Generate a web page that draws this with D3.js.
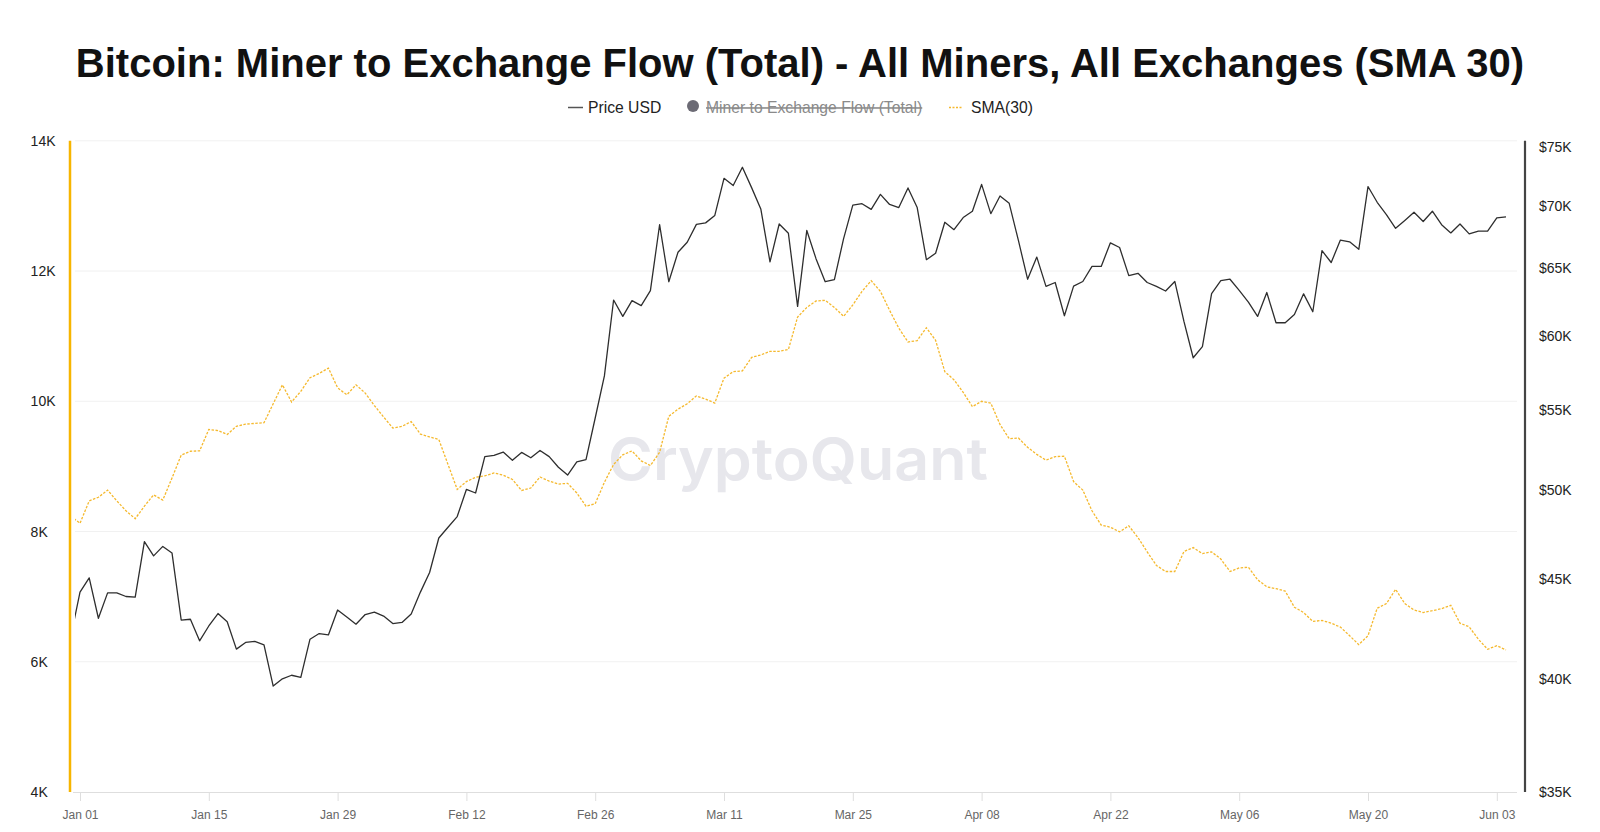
<!DOCTYPE html>
<html><head><meta charset="utf-8">
<script src="https://cdn.jsdelivr.net/npm/d3@7"></script>
<style>
html,body{margin:0;padding:0;background:#fff;}
svg{display:block;font-family:"Liberation Sans",Arial,Helvetica,sans-serif;}
</style></head><body>
<svg id="chart" width="1600" height="832"></svg>
<script>
// ---------- data ----------
const firstDate = "2023-12-31";
const priceUSD = [42050,
 44330,45080,42980,44290,44290,44100,44070,47060,46270,46790,
 46430,42890,42930,41850,42590,43220,42800,41440,41770,41820,
 41650,39670,40010,40180,40080,41930,42210,42140,43400,43040,
 42680,43170,43290,43090,42710,42770,43200,44330,45370,47260,
 47860,48470,50050,49840,52030,52110,52310,51810,52290,51960,
 52410,52030,51380,50910,51710,51840,54460,57240,62610,61410,
 62570,62200,63310,68440,63980,66250,67040,68470,68590,69200,
 72300,71690,73250,71510,69730,65500,68500,67750,62140,67980,
 65750,63980,64140,67330,70040,70160,69690,70940,70100,69840,
 71480,69840,65670,66170,68640,68040,69020,69540,71780,69340,
 70810,70190,67180,64170,65870,63630,63920,61460,63650,64000,
 65150,65150,66990,66620,64440,64620,63920,63630,63280,64000,
 61030,58480,59250,63090,64060,64170,63330,62460,61410,63170,
 60950,60950,61550,63070,61750,66370,65450,67210,67070,66480,
 71600,70280,69260,68150,68790,69460,68700,69540,68440,67780,
 68500,67700,67920,67920,68990,69070];
const sma30 = [8236,
 8126,8471,8526,8636,8471,8318,8197,8389,8564,8482,
 8822,9173,9233,9238,9567,9551,9490,9616,9649,9660,
 9671,9962,10252,9989,10153,10362,10427,10510,10208,10099,
 10252,10126,9934,9759,9589,9616,9688,9496,9452,9414,
 9030,8647,8767,8833,8855,8899,8866,8800,8630,8668,
 8838,8773,8729,8740,8592,8389,8427,8756,9030,9178,
 9238,9085,9014,9216,9770,9879,9962,10082,10033,9973,
 10356,10455,10466,10674,10712,10767,10767,10795,11293,11441,
 11540,11551,11441,11304,11479,11688,11852,11688,11397,11123,
 10910,10932,11129,10937,10455,10329,10137,9918,10000,9973,
 9644,9425,9436,9293,9184,9096,9151,9156,8767,8636,
 8318,8099,8066,7995,8088,7907,7688,7479,7386,7386,
 7693,7753,7660,7688,7578,7386,7441,7452,7260,7151,
 7123,7085,6838,6756,6619,6635,6592,6532,6400,6263,
 6400,6822,6893,7112,6893,6795,6756,6784,6816,6866,
 6592,6537,6345,6192,6247,6181];
const leftTicks = [4000,6000,8000,10000,12000,14000];
const rightTicks = [35000,40000,45000,50000,55000,60000,65000,70000,75000];
const xTickDates = ["2024-01-01","2024-01-15","2024-01-29","2024-02-12","2024-02-26","2024-03-11",
                    "2024-03-25","2024-04-08","2024-04-22","2024-05-06","2024-05-20","2024-06-03"];
const titleText = "Bitcoin: Miner to Exchange Flow (Total) - All Miners, All Exchanges (SMA 30)";
const legendItems = ["Price USD","Miner to Exchange Flow (Total)","SMA(30)"];

// ---------- build ----------
(function () {
const parse = d3.utcParse("%Y-%m-%d");
const d0 = parse(firstDate);
const dates = priceUSD.map((_, i) => d3.utcDay.offset(d0, i));
const rows = dates.map((d, i) => ({date: d, price: priceUSD[i], sma: sma30[i]}));

const svg = d3.select("#chart");
const pTop = 140.8, pBottom = 792, clipL = 75, clipR = 1517;

const x = d3.scaleUtc().domain([parse("2024-01-01"), parse("2024-06-03")]).range([80, 1496.8]);
const yL = d3.scaleLinear().domain([4000, 14000]).range([pBottom, pTop]);
const yR = d3.scaleLog().domain([35000, 75000]).range([pBottom, 147.3]);

// title
svg.append("text").attr("x", 800).attr("y", 77).attr("text-anchor", "middle")
  .attr("font-size", 40).attr("font-weight", "bold").attr("fill", "#111").text(titleText);

// legend
const lg = svg.append("g").attr("font-size", 15.7);
lg.append("line").attr("x1", 568).attr("x2", 583).attr("y1", 107.5).attr("y2", 107.5)
  .attr("stroke", "#555").attr("stroke-width", 1.5);
lg.append("text").attr("x", 588).attr("y", 107).attr("dy", "0.36em").attr("fill", "#222").text(legendItems[0]);
lg.append("circle").attr("cx", 693).attr("cy", 106).attr("r", 6).attr("fill", "#6c6b75");
lg.append("text").attr("x", 706).attr("y", 107).attr("dy", "0.36em").attr("fill", "#8a8a8a")
  .attr("text-decoration", "line-through").text(legendItems[1]);
lg.append("line").attr("x1", 949).attr("x2", 962).attr("y1", 107.5).attr("y2", 107.5)
  .attr("stroke", "#f5b92e").attr("stroke-width", 1.5).attr("stroke-dasharray", "2,1.5");
lg.append("text").attr("x", 971).attr("y", 107).attr("dy", "0.36em").attr("fill", "#222").text(legendItems[2]);

// gridlines
svg.append("g").selectAll("line").data(leftTicks.filter(t => t > 4000)).join("line")
  .attr("x1", clipL).attr("x2", clipR).attr("y1", d => yL(d)).attr("y2", d => yL(d))
  .attr("stroke", "#f1f1f1").attr("stroke-width", 1);

// x axis
const xAxis = d3.axisBottom(x).tickValues(xTickDates.map(parse)).tickFormat(d3.utcFormat("%b %d"))
  .tickSize(9).tickSizeOuter(0);
const gx = svg.append("g").attr("transform", `translate(0,${pBottom})`).call(xAxis);
gx.select(".domain").remove();
gx.insert("line", ":first-child").attr("x1", 73).attr("x2", clipR).attr("y1", 0.5).attr("y2", 0.5)
  .attr("stroke", "#dedede");
gx.selectAll(".tick line").attr("stroke", "#dedede");
gx.selectAll(".tick text").attr("fill", "#666").attr("font-size", 12).attr("y", 18)
  .attr("font-family", "'Liberation Sans', Arial, sans-serif");

// left axis
const yAxisL = d3.axisLeft(yL).tickValues(leftTicks).tickFormat(d => d / 1000 + "K").tickSize(0);
const gl = svg.append("g").attr("transform", "translate(70,0)").call(yAxisL);
gl.select(".domain").remove();
gl.selectAll(".tick text").attr("x", -39.4).attr("text-anchor", "start").attr("fill", "#222")
  .attr("font-size", 14).attr("font-family", "'Liberation Sans', Arial, sans-serif");
svg.append("line").attr("x1", 70).attr("x2", 70).attr("y1", yL(14000)).attr("y2", yL(4000))
  .attr("stroke", "#f7b500").attr("stroke-width", 2.5);

// right axis
const yAxisR = d3.axisRight(yR).tickValues(rightTicks).tickFormat(d => "$" + d / 1000 + "K").tickSize(0);
const gr = svg.append("g").attr("transform", "translate(1525,0)").call(yAxisR);
gr.select(".domain").remove();
gr.selectAll(".tick text").attr("x", 14).attr("fill", "#222")
  .attr("font-size", 14).attr("font-family", "'Liberation Sans', Arial, sans-serif");
svg.append("line").attr("x1", 1525).attr("x2", 1525).attr("y1", pTop).attr("y2", pBottom)
  .attr("stroke", "#444").attr("stroke-width", 2.2);

// watermark
svg.append("text").attr("x", 608).attr("y", 480).attr("font-family", "Inter, 'Open Sans', sans-serif")
  .attr("font-weight", 600).attr("font-size", 58).attr("fill", "#e7e7ec")
  .attr("textLength", 380).attr("lengthAdjust", "spacingAndGlyphs").text("CryptoQuant");

// clip
svg.append("defs").append("clipPath").attr("id", "plotclip").append("rect")
  .attr("x", clipL).attr("y", pTop - 5).attr("width", clipR - clipL).attr("height", pBottom - pTop + 5);

const plot = svg.append("g").attr("clip-path", "url(#plotclip)");
plot.append("path").datum(rows)
  .attr("d", d3.line().x(d => x(d.date)).y(d => yL(d.sma)))
  .attr("fill", "none").attr("stroke", "#f5b92e").attr("stroke-width", 1.3).attr("stroke-dasharray", "2.5,1.5");
plot.append("path").datum(rows)
  .attr("d", d3.line().x(d => x(d.date)).y(d => yR(d.price)))
  .attr("fill", "none").attr("stroke", "#2e2e2e").attr("stroke-width", 1.3).attr("stroke-linejoin", "round");
})();
</script>
</body></html>
